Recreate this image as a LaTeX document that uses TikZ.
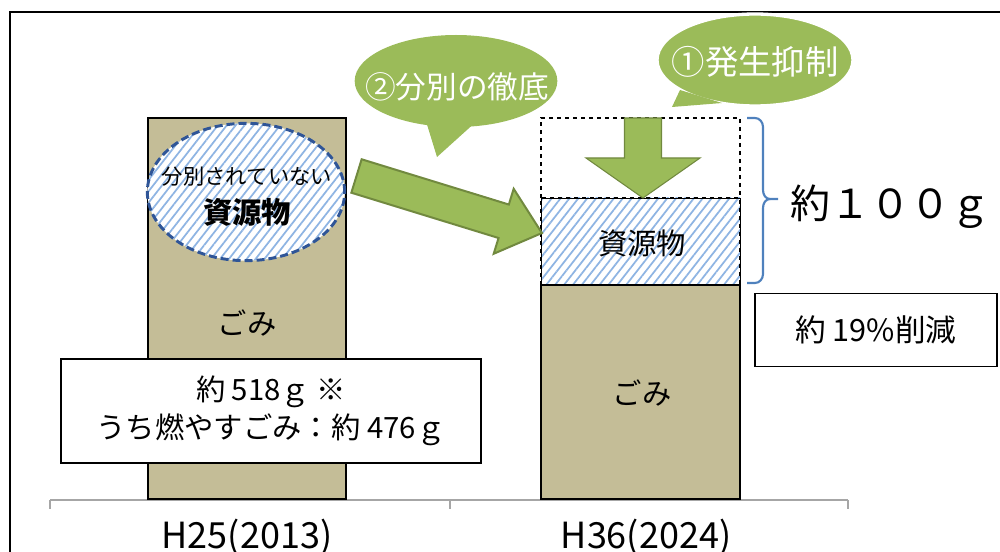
\documentclass[tikz,border=0pt]{standalone}
\usepackage{fontspec}
\setmainfont{Noto Sans CJK JP}
\usetikzlibrary{shapes.geometric,patterns.meta}
\definecolor{gomicol}{HTML}{C4BD97}
\definecolor{greencol}{HTML}{9BBB59}
\definecolor{greenedge}{HTML}{71893F}
\definecolor{hatchcol}{HTML}{8EB4E3}
\definecolor{ovalcol}{HTML}{2F5597}
\definecolor{bracecol}{HTML}{4F81BD}
\definecolor{axiscol}{HTML}{A6A6A6}
\newcommand{\fs}[1]{\fontsize{#1pt}{1.2\dimexpr#1pt\relax}\selectfont}

\begin{document}
\begin{tikzpicture}[x=0.75pt, y=-0.75pt,
    hatched/.style={preaction={fill=white}, pattern={Lines[angle=52,distance=5.25pt,line width=1.3pt]}, pattern color=hatchcol},
    bar/.style={fill=gomicol, draw=black, line width=1.5pt},
    infobox/.style={draw=black, fill=white, line width=1pt, inner sep=0pt},
    bubble/.style={fill=greencol, draw=white, line width=2.5pt},
    bigarrow/.style={fill=greencol, draw=greenedge, line width=1.5pt, line join=miter}]

    \useasboundingbox (0, 0) rectangle (1000, 552);

    % frame and axis
    \draw[line width=1.3pt] (10, 552) -- (10, 12) -- (1000, 12);
    \draw[axiscol, line width=1.2pt] (50, 500) -- (848, 500);
    \draw[axiscol, line width=1.2pt] (50, 500) -- (50, 509);
    \draw[axiscol, line width=1.2pt] (450, 500) -- (450, 509);
    \draw[axiscol, line width=1.2pt] (848, 500) -- (848, 509);

    % H25 bar
    \draw[bar] (148, 118) rectangle (346, 499);
    \node[ellipse, hatched, draw=ovalcol, line width=2.2pt, dash pattern=on 6pt off 3pt,
          minimum width=148pt, minimum height=103pt] (oval) at (246, 192) {};
    \node (oval1) at (247, 177) {\fs{16}分別されていない};
    \node (oval2) at (247, 212) {\fs{22}\bfseries 資源物};
    \node (gomi1) at (247, 323) {\fs{22}ごみ};
    \node[infobox, minimum width=315pt, minimum height=78pt, align=center,
          font=\fontsize{22pt}{28.5pt}\selectfont] (total1) at (271, 411)
          {約 518ｇ ※\\うち燃やすごみ：約 476ｇ};

    % H36 bar
    \draw[black, line width=1.2pt, dashed] (541, 198) -- (541, 118) -- (740, 118) -- (740, 198);
    \draw[hatched] (541, 198) rectangle (740, 285);
    \draw[black, line width=1.2pt, dashed] (541, 285) -- (541, 198) -- (740, 198) -- (740, 285);
    \draw[bar] (541, 285) rectangle (740, 499);
    \node (shigen2) at (642, 243) {\fs{22}資源物};
    \node (gomi2) at (642, 393) {\fs{22}ごみ};

    % brace
    \draw[bracecol, line width=1.6pt] (747, 118) -- (755, 118) to[out=0, in=90] (763, 127) -- (763, 190)
        to[out=-90, in=180] (770, 199) -- (778, 199);
    \draw[bracecol, line width=1.6pt] (747, 283) -- (755, 283) to[out=0, in=-90] (763, 274) -- (763, 208)
        to[out=90, in=180] (770, 199);
    \node[anchor=west] (diff) at (786, 207) {\fs{30}約１００ｇ};
    \node[infobox, minimum width=181.5pt, minimum height=54.75pt] (rate) at (876, 330) {\fs{23}約 19\%削減};

    % bubbles
    \fill[greencol] (425, 118) -- (437, 157) -- (478, 120) -- cycle;
    \node[ellipse, fill=greencol, minimum width=152pt, minimum height=69pt] (step2) at (456, 81) {};
    \node[text=white] (step2txt) at (457, 87) {\fs{23}②分別の徹底};
    \draw[bubble] (755, 60) ellipse[x radius=98, y radius=46];
    \fill[greencol] (680, 90) -- (672, 107) -- (722, 103) -- cycle;
    \node[text=white] (step1txt) at (755, 62) {\fs{25}①発生抑制};

    % arrows
    \begin{scope}[shift={(356.5, 176)}, rotate=-17.1]
      \draw[bigarrow] (0, -17.5) -- (154, -17.5) -- (154, -34) -- (194, 0) -- (154, 34) -- (154, 17.5) -- (0, 17.5) -- cycle;
    \end{scope}
    \draw[fill=greencol, draw=greenedge, line width=0.8pt] (624.5, 118) -- (661.5, 118) -- (661.5, 158) -- (700, 158)
        -- (643, 198) -- (586, 158) -- (624.5, 158) -- cycle;

    % axis labels
    \node (year1) at (247, 537) {\fs{27}H25(2013)};
    \node (year2) at (646, 537) {\fs{27}H36(2024)};

\end{tikzpicture}
\end{document}
